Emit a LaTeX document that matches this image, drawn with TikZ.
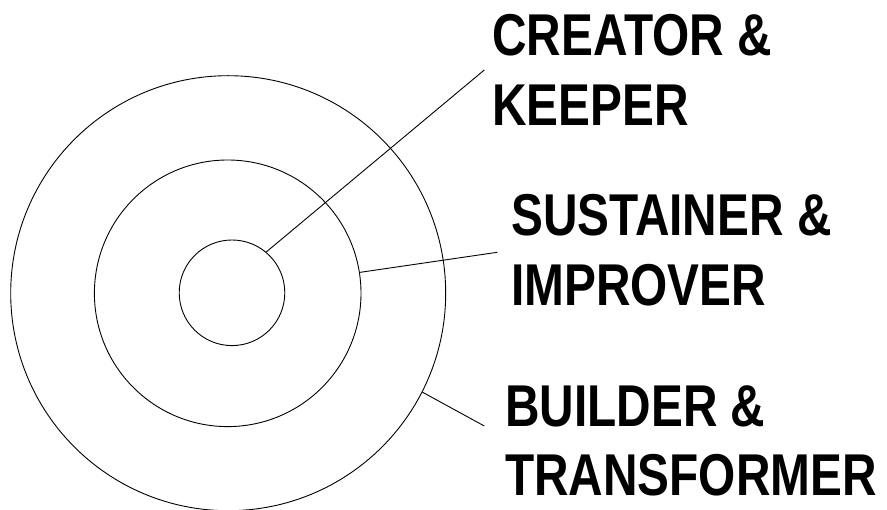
\documentclass[tikz,border=0pt]{standalone}
\usepackage{fontspec}
\usepackage{tikz}
\newfontfamily\labelfont[FakeStretch=0.81]{Liberation Sans}
\def\ring{\node[circle,draw,line width=0.9pt,inner sep=0pt]}
\def\lbl{\node[anchor=base west,align=left,inner sep=0pt,
  font=\labelfont\bfseries\fontsize{59}{69.5}\selectfont]}

\begin{document}
\begin{tikzpicture}[x=1pt,y=-1pt]
                \useasboundingbox (0,0) rectangle (887,510);
                \ring[minimum size=435] (outer) at (228.2,293.2) {};
                \ring[minimum size=266.6] (mid) at (227.7,293.3) {};
                \ring[minimum size=105.6] (inner) at (232,292.8) {};
                \coordinate (k1) at (484.3,70);
                \coordinate (k2) at (497.3,252.3);
                \coordinate (k3) at (484.3,426);
                \draw[line width=0.9pt] (inner.50) -- (k1);
                \draw[line width=0.9pt] (mid.9.6) -- (k2);
                \draw[line width=0.9pt] (outer.-27.5) -- (k3);
                % base = second line
                \lbl (creator) at (492,125.5) {CREATOR \&\\KEEPER};
                \lbl (sustainer) at (511,305.5) {SUSTAINER \&\\IMPROVER};
                \lbl (builder) at (505,496) {BUILDER \&\\TRANSFORMER};
            \end{tikzpicture}
\end{document}
